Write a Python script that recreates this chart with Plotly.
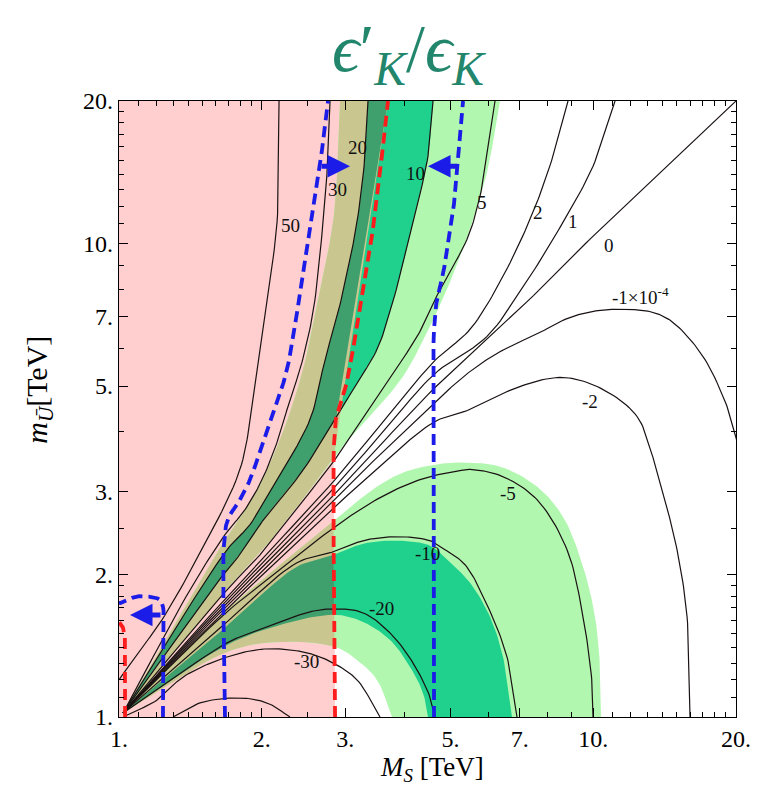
import numpy as np
import plotly.graph_objects as go

c50_M = [2.175, 2.154, 2.032, 1.916, 1.799, 1.482, 1.232, 1.081, 1.0]
c50_m = [20.0, 11.09, 7.155, 4.684, 3.331, 2.223, 1.604, 1.339, 1.198]

c30_M = [2.786, 2.759, 2.693, 2.565, 2.408, 2.294, 2.164, 2.003, 1.844, 1.673, 1.412, 1.02]
c30_m = [20.0, 15.30, 11.09, 7.155, 5.420, 4.684, 3.855, 3.172, 2.741, 2.427, 1.857, 1.02]

c20_M = [3.350, 3.302, 3.176, 3.070, 2.925, 2.719, 2.528, 2.154, 1.889, 1.690, 1.02]
c20_m = [20.0, 15.30, 11.09, 9.264, 7.440, 5.691, 4.249, 3.172, 2.548, 2.256, 1.02]

c10_M = [4.594, 4.483, 4.169, 3.819, 3.500, 3.161, 2.827, 2.408, 2.052, 1.799, 1.690, 1.02]
c10_m = [20.0, 15.30, 11.09, 7.812, 5.975, 5.039, 4.188, 3.251, 2.675, 2.201, 2.046, 1.02]

c5_M = [6.207, 5.771, 5.418, 4.753, 4.313, 3.674, 3.115, 2.883, 2.408, 1.983, 1.690, 1.02]
c5_m = [20.0, 12.59, 10.21, 8.004, 6.523, 5.088, 3.988, 3.548, 2.808, 2.201, 1.857, 1.02]

c2_M = [8.847, 8.226, 7.465, 6.453, 5.498, 4.638, 3.638, 2.855, 1.690, 1.02]
c2_m = [20.0, 15.30, 11.65, 8.527, 6.587, 5.664, 4.249, 3.172, 1.794, 1.02]

c1_M = [11.116, 9.990, 8.635, 7.357, 5.971, 4.638, 3.638, 2.855, 1.690, 1.02]
c1_m = [20.0, 14.57, 11.09, 8.527, 6.366, 5.316, 4.047, 3.066, 1.768, 1.02]

c0_M = [20.0, 10.335, 7.723, 4.638, 2.855, 1.690, 1.02]
c0_m = [20.0, 10.72, 8.004, 4.966, 2.963, 1.742, 1.02]

cm1_M = [20.9, 20.0, 19.15, 17.04, 14.73, 13.37, 11.78, 10.335, 8.934, 7.723, 6.676, 5.971,
         5.237, 4.638, 3.638, 2.855, 1.690, 1.02]
cm1_m = [3.331, 3.912, 4.527, 5.775, 6.815, 7.155, 7.261, 7.226, 6.983, 6.491, 6.063, 5.691,
         5.163, 4.616, 3.671, 2.878, 1.718, 1.02]

cm2_M = [16.00, 15.77, 15.02, 13.97, 13.305, 12.37, 10.487, 8.635, 7.008, 5.498, 4.638, 3.638,
         2.855, 1.690, 1.02]
cm2_m = [1.0, 1.628, 2.256, 3.021, 3.583, 4.312, 4.918, 5.213, 4.991, 4.461, 4.208, 3.463,
         2.781, 1.692, 1.02]

cm5_M = [9.99, 9.942, 9.517, 8.805, 7.611, 6.453, 5.578, 5.237, 4.313, 3.551, 2.855, 2.186, 1.690, 1.02]
cm5_m = [1.0, 1.180, 1.628, 2.256, 2.878, 3.219, 3.331, 3.315, 3.172, 2.906, 2.523, 2.046, 1.668, 1.02]

cm10_M = [6.906, 6.579, 5.971, 5.366, 4.869, 4.527, 3.857, 3.270, 2.883, 2.373, 1.690, 1.02]
cm10_m = [1.0, 1.339, 1.726, 2.097, 2.256, 2.357, 2.403, 2.357, 2.245, 2.117, 1.588, 1.02]

cm20_M = [4.638, 4.527, 4.169, 3.728, 3.270, 2.855, 2.528, 2.186, 1.889, 1.690, 1.02]
cm20_m = [1.0, 1.102, 1.301, 1.505, 1.660, 1.692, 1.668, 1.588, 1.505, 1.434, 1.02]

cm30_M = [3.551, 3.176, 2.827, 2.4915, 2.052, 1.690, 1.365, 1.203, 1.030]
cm30_m = [1.0, 1.198, 1.301, 1.366, 1.393, 1.339, 1.215, 1.086, 1.005]

cm50_M = [1.300, 1.482, 1.799, 2.052, 2.294]
cm50_m = [1.0, 1.071, 1.097, 1.071, 1.0]

# band boundaries
lgp_in_M = [2.925, 2.897, 2.827, 2.654, 2.444, 2.186, 1.935, 1.756, 1.673, 1.02]
lgp_in_m = [20.0, 15.30, 11.09, 8.004, 5.420, 3.855, 2.949, 2.548, 2.368, 1.02]
lgp_out_M = [6.360, 5.971, 5.498, 4.917, 4.462, 3.971, 3.383, 2.925, 2.408, 1.983, 1.690, 1.02]
lgp_out_m = [20.0, 14.15, 10.72, 8.004, 6.491, 5.239, 4.312, 3.671, 2.836, 2.223, 1.866, 1.02]

lgn_out_M = [10.386, 10.335, 10.088, 9.517, 8.635, 7.611, 6.453, 5.498, 4.638, 3.971, 3.500,
             2.855, 2.186, 1.690, 1.02]
lgn_out_m = [1.0, 1.276, 1.628, 2.077, 2.649, 3.066, 3.364, 3.446, 3.413, 3.283, 3.066,
             2.611, 2.097, 1.684, 1.02]
lgn_in_M = [3.764, 3.500, 3.176, 2.855, 2.186, 1.690, 1.02]
lgn_in_m = [1.0, 1.198, 1.320, 1.406, 1.441, 1.373, 1.02]

mgn_out_M = [6.741, 6.453, 6.058, 5.498, 4.917, 4.527, 3.857, 3.270, 2.883, 2.373, 1.690, 1.02]
mgn_out_m = [1.0, 1.339, 1.628, 1.920, 2.148, 2.301, 2.357, 2.323, 2.212, 2.077, 1.557, 1.02]
mgn_in_M = [4.483, 4.376, 4.108, 3.728, 3.270, 2.855, 2.186, 1.690, 1.02]
mgn_in_m = [1.0, 1.124, 1.276, 1.455, 1.588, 1.644, 1.565, 1.420, 1.02]

# dashed bounds
red_M = [2.855, 2.855, 2.896, 2.997, 3.115, 3.270, 3.383, 3.517, 3.692]
red_m = [1.0, 4.148, 4.417, 4.918, 5.975, 8.004, 9.726, 13.03, 20.0]
red2_M = [1.030, 1.030, 1.0196, 1.0]
red2_m = [1.0, 1.455, 1.543, 1.588]

blue1_M = [1.238, 1.238, 1.220, 1.162, 1.081, 1.015, 1.0]
blue1_m = [1.0, 1.709, 1.768, 1.794, 1.794, 1.742, 1.742]
blue2_M = [1.673, 1.673, 1.714, 1.774, 1.889, 2.051, 2.164, 2.261, 2.374, 2.492, 2.629, 2.759]
blue2_m = [1.0, 2.463, 2.675, 2.809, 3.172, 4.048, 4.684, 5.422, 7.157, 9.869, 13.68, 20.0]
blue3_M = [4.616, 4.616, 4.684, 4.823, 4.918, 5.038, 5.163, 5.315]
blue3_m = [1.0, 6.59, 7.623, 8.61, 9.725, 11.09, 14.57, 20.0]

# arrows: (tail M, tip M, m)
arrow_tail = [1.232, 2.654, 5.19]
arrow_tip = [1.055, 3.07, 4.485]
arrow_m = [1.643, 14.57, 14.57]

# contour labels
lab_text = ['50', '30', '20', '10', '5', '2', '1', '0', '-1×10<sup>-4</sup>', '-2', '-5', '-10', '-20', '-30']
lab_M = [2.294, 2.883, 3.177, 4.229, 5.83, 7.65, 9.07, 10.80, 12.55, 9.85, 6.61, 4.48, 3.585, 2.48]
lab_m = [10.93, 13.03, 15.98, 14.08, 12.23, 11.65, 11.15, 9.92, 7.73, 4.64, 2.964, 2.212, 1.692, 1.307]

x_ticks = [1, 2, 3, 5, 7, 10, 20]
x_ticklabels = ['1.', '2.', '3.', '5.', '7.', '10.', '20.']
y_ticks = [1, 2, 3, 5, 7, 10, 20]
y_ticklabels = ['1.', '2.', '3.', '5.', '7.', '10.', '20.']
minor_ticks = [1.1, 1.2, 1.3, 1.4, 1.5, 1.6, 1.7, 1.8, 1.9, 2.5, 4, 6, 8, 9,
               11, 12, 13, 14, 15, 16, 17, 18, 19]

PINK = '#ffcfcf'
LGREEN = '#b2f7b0'
MGREEN = '#1fd18d'
OLIVE = '#c9c78f'
DGREEN = '#3f9f6d'
BLUE = '#1c1ce8'
RED = '#ff1c1c'
TEAL = '#22866c'


# ---------------- helpers ----------------
def smooth(xs, ys, n=14):
    P = np.column_stack([np.log10(xs), np.log10(ys)])
    if len(P) < 3:
        return np.array(xs, float), np.array(ys, float)
    P = np.vstack([2 * P[0] - P[1], P, 2 * P[-1] - P[-2]])
    out = []
    for i in range(1, len(P) - 2):
        p0, p1, p2, p3 = P[i - 1], P[i], P[i + 1], P[i + 2]
        t0 = 0.0
        t1 = t0 + max(np.linalg.norm(p1 - p0), 1e-9) ** 0.5
        t2 = t1 + max(np.linalg.norm(p2 - p1), 1e-9) ** 0.5
        t3 = t2 + max(np.linalg.norm(p3 - p2), 1e-9) ** 0.5
        for t in np.linspace(t1, t2, n, endpoint=False):
            A1 = (t1 - t) / (t1 - t0) * p0 + (t - t0) / (t1 - t0) * p1
            A2 = (t2 - t) / (t2 - t1) * p1 + (t - t1) / (t2 - t1) * p2
            A3 = (t3 - t) / (t3 - t2) * p2 + (t - t2) / (t3 - t2) * p3
            B1 = (t2 - t) / (t2 - t0) * A1 + (t - t0) / (t2 - t0) * A2
            B2 = (t3 - t) / (t3 - t1) * A2 + (t - t1) / (t3 - t1) * A3
            out.append((t2 - t) / (t2 - t1) * B1 + (t - t1) / (t2 - t1) * B2)
    out.append(P[-2])
    out = np.array(out)
    return 10 ** out[:, 0], 10 ** out[:, 1]


redx, redy = smooth(red_M, red_m)
red_lx, red_ly = np.log10(redx), np.log10(redy)
order = np.argsort(red_ly)
red_lx, red_ly = red_lx[order], red_ly[order]


def clip_left(xs, ys, left=True):
    lx, ly = np.log10(xs), np.log10(ys)
    f = lx - np.interp(ly, red_ly, red_lx)
    if not left:
        f = -f
    inside = f < 0
    out = []
    n = len(lx)
    for i in range(n):
        j = i - 1
        if inside[i]:
            if not inside[j]:
                t = f[j] / (f[j] - f[i])
                out.append((lx[j] + t * (lx[i] - lx[j]), ly[j] + t * (ly[i] - ly[j])))
            out.append((lx[i], ly[i]))
        elif inside[j]:
            t = f[j] / (f[j] - f[i])
            out.append((lx[j] + t * (lx[i] - lx[j]), ly[j] + t * (ly[i] - ly[j])))
    if not out:
        return [], []
    out = np.array(out)
    return 10 ** out[:, 0], 10 ** out[:, 1]


def band(ax, ay, bx, by):
    a = smooth(ax, ay)
    b = smooth(bx, by)
    return (np.concatenate([a[0], b[0][::-1]]), np.concatenate([a[1], b[1][::-1]]))


fig = go.Figure()


def add_fill(x, y, color):
    fig.add_trace(go.Scatter(x=x, y=y, mode='lines', fill='toself', fillcolor=color,
                             line=dict(width=0, color=color), hoverinfo='skip'))


# pink excluded region (left of red dashed line)
pink_x = np.concatenate([[1.0], redx, [1.0]])
pink_y = np.concatenate([[1.0], redy, [20.0]])
add_fill(pink_x, pink_y, PINK)

lgp = band(lgp_in_M, lgp_in_m, lgp_out_M, lgp_out_m)
lgn = band(lgn_out_M, lgn_out_m, lgn_in_M, lgn_in_m)
mgp = band(c20_M, c20_m, c10_M, c10_m)
mgn = band(mgn_out_M, mgn_out_m, mgn_in_M, mgn_in_m)

add_fill(*lgp, LGREEN)
add_fill(*lgn, LGREEN)
add_fill(*mgp, MGREEN)
add_fill(*mgn, MGREEN)
for poly in (lgp, lgn):
    cx, cy = clip_left(*poly)
    if len(cx):
        add_fill(cx, cy, OLIVE)
for poly in (mgp, mgn):
    cx, cy = clip_left(*poly)
    if len(cx):
        add_fill(cx, cy, DGREEN)

# contour lines
contours = [(c50_M, c50_m), (c30_M, c30_m), (c20_M, c20_m), (c10_M, c10_m), (c5_M, c5_m),
            (c2_M, c2_m), (c1_M, c1_m), (c0_M, c0_m), (cm1_M, cm1_m), (cm2_M, cm2_m),
            (cm5_M, cm5_m), (cm10_M, cm10_m), (cm20_M, cm20_m), (cm30_M, cm30_m),
            (cm50_M, cm50_m)]
for cxs, cys in contours:
    sx, sy = smooth(cxs, cys)
    fig.add_trace(go.Scatter(x=sx, y=sy, mode='lines', line=dict(color='#1a1212', width=1.2),
                             hoverinfo='skip'))

# dashed bounds
for (dx, dy), col in [((red_M, red_m), RED), ((red2_M, red2_m), RED),
                      ((blue1_M, blue1_m), BLUE), ((blue2_M, blue2_m), BLUE),
                      ((blue3_M, blue3_m), BLUE)]:
    sx, sy = smooth(dx, dy)
    fig.add_trace(go.Scatter(x=sx, y=sy, mode='lines',
                             line=dict(color=col, width=3.8, dash='11px,6px'),
                             hoverinfo='skip'))

annotations = []
for t0, t1, mm in zip(arrow_tail, arrow_tip, arrow_m):
    annotations.append(dict(x=np.log10(t1), y=np.log10(mm), ax=np.log10(t0), ay=np.log10(mm),
                            xref='x', yref='y', axref='x', ayref='y', text='', showarrow=True,
                            arrowhead=2, arrowsize=0.9, arrowwidth=5, arrowcolor=BLUE))

for t, mx, my in zip(lab_text, lab_M, lab_m):
    annotations.append(dict(x=np.log10(mx), y=np.log10(my), xref='x', yref='y', text=t,
                            showarrow=False,
                            font=dict(family='Liberation Serif', size=19, color='#111111')))

annotations.append(dict(x=0.470, y=1.079, xref='paper', yref='paper', xanchor='center',
                        yanchor='middle', showarrow=False,
                        text="<i>ϵ</i>′<sub><i>K</i></sub>/<i>ϵ</i><sub><i>K</i></sub>",
                        font=dict(family='Liberation Serif', size=68, color=TEAL)))
annotations.append(dict(x=0.507, y=-0.084, xref='paper', yref='paper', xanchor='center',
                        yanchor='middle', showarrow=False,
                        text="<i>M</i><sub><i>S</i></sub> [TeV]",
                        font=dict(family='Liberation Serif', size=27, color='black')))
annotations.append(dict(x=-0.13, y=0.531, xref='paper', yref='paper', xanchor='center',
                        yanchor='middle', showarrow=False, textangle=-90,
                        text="<i>m</i><sub><i>Ū</i></sub>[TeV]",
                        font=dict(family='Liberation Serif', size=30, color='black')))

axis_common = dict(type='log', range=[0, np.log10(20)], ticks='inside', ticklen=9, tickwidth=1.2,
                   tickcolor='black', showline=True, linecolor='black', linewidth=1.4,
                   mirror='allticks', showgrid=False, zeroline=False,
                   tickfont=dict(family='Liberation Serif', size=24, color='black'),
                   minor=dict(tickvals=minor_ticks, ticklen=5, ticks='inside',
                              tickcolor='black', tickwidth=1, showgrid=False))

fig.update_layout(width=772, height=787, margin=dict(l=119, r=36, t=101, b=70),
                  plot_bgcolor='white', paper_bgcolor='white', showlegend=False,
                  annotations=annotations,
                  xaxis=dict(tickvals=x_ticks, ticktext=x_ticklabels, **axis_common),
                  yaxis=dict(tickvals=y_ticks, ticktext=y_ticklabels, **axis_common))

# remove the default 8 px page margin so the figure fills the window exactly
fig.write_html("out.html", config={'displayModeBar': False},
               post_script="document.body.style.margin='0px';document.body.style.overflow='hidden';")
